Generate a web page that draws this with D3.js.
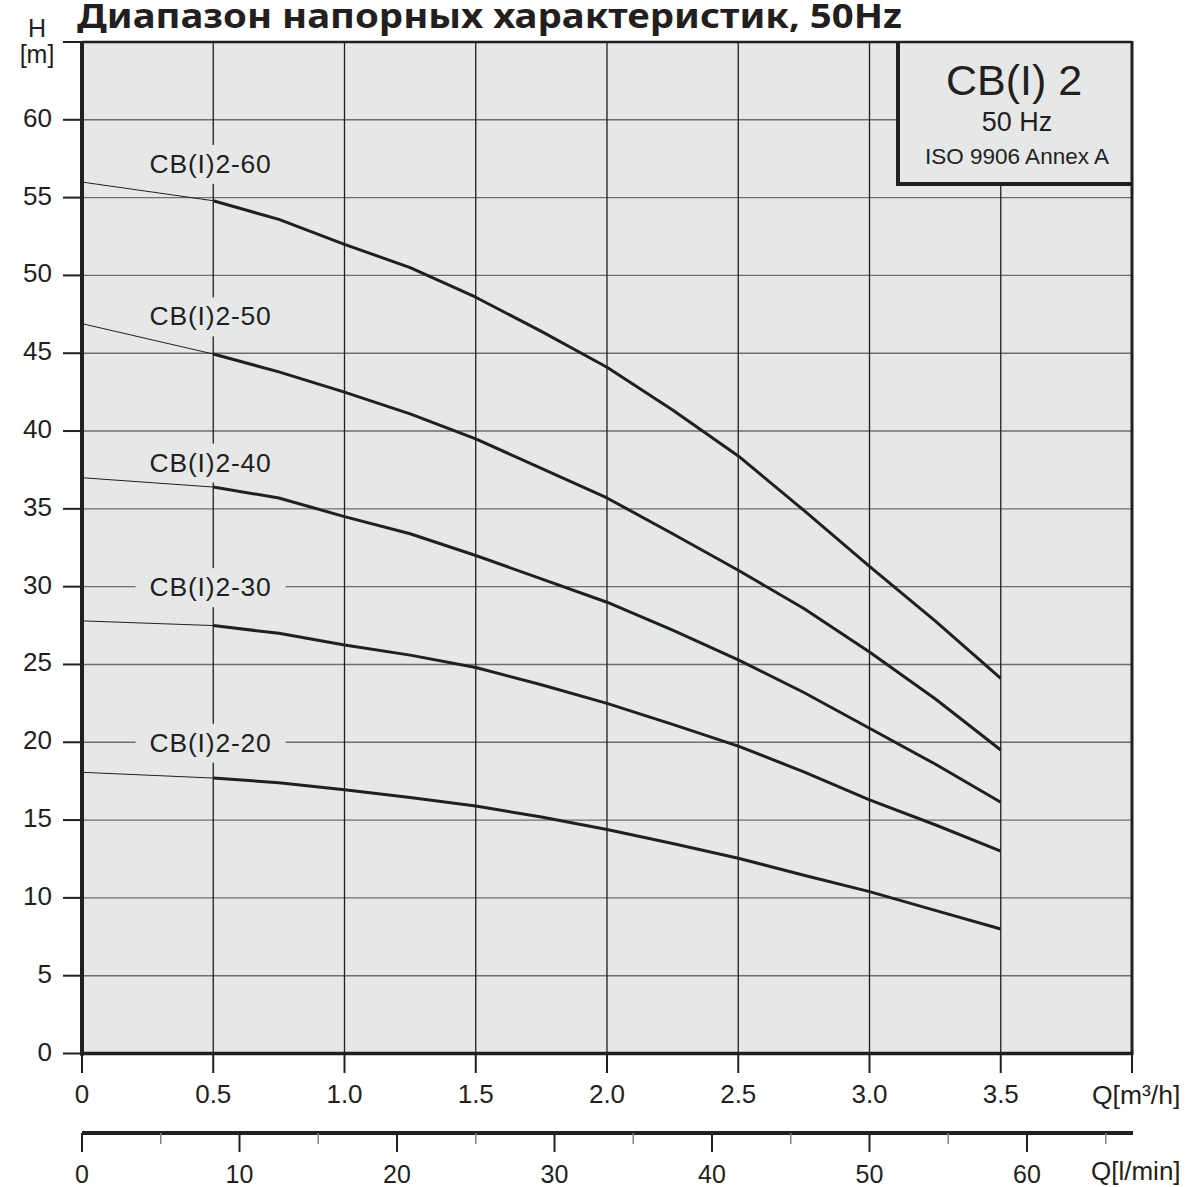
<!DOCTYPE html>
<html><head><meta charset="utf-8">
<script src="https://cdn.jsdelivr.net/npm/d3@7"></script>
<style>
body{margin:0;background:#fff}
svg{display:block}
text{font-family:"Liberation Sans",Arial,Helvetica,sans-serif;fill:#231f20}
</style>
</head><body>
<svg id="c" width="1198" height="1187"></svg>
<script>
// ---- data ----
const flowQ  = [0, 0.5, 0.75, 1.0, 1.25, 1.5, 1.75, 2.0, 2.25, 2.5, 2.75, 3.0, 3.25, 3.5];
const head60 = [56.0, 54.8, 53.6, 52.0, 50.5, 48.6, 46.4, 44.1, 41.35, 38.4, 34.9, 31.3, 27.8, 24.1];
const head50 = [46.9, 44.95, 43.8, 42.5, 41.1, 39.5, 37.6, 35.7, 33.4, 31.05, 28.6, 25.8, 22.8, 19.5];
const head40 = [37.0, 36.4, 35.7, 34.5, 33.4, 32.0, 30.5, 29.0, 27.2, 25.3, 23.2, 20.9, 18.6, 16.15];
const head30 = [27.8, 27.5, 27.0, 26.25, 25.6, 24.8, 23.7, 22.5, 21.15, 19.75, 18.1, 16.3, 14.7, 13.0];
const head20 = [18.07, 17.7, 17.4, 16.95, 16.45, 15.9, 15.2, 14.4, 13.5, 12.55, 11.45, 10.4, 9.2, 8.0];
const seriesNames = ["CB(I)2-60", "CB(I)2-50", "CB(I)2-40", "CB(I)2-30", "CB(I)2-20"];
const seriesHeads = [head60, head50, head40, head30, head20];
const labelQ = [0.49, 0.49, 0.49, 0.49, 0.49];
const labelH = [57.2, 47.4, 38.0, 30.0, 20.0];
const qTicks = [0, 0.5, 1.0, 1.5, 2.0, 2.5, 3.0, 3.5, 4.0];
const qTickLabels = ["0", "0.5", "1.0", "1.5", "2.0", "2.5", "3.0", "3.5", ""];
const hTicks = [0, 5, 10, 15, 20, 25, 30, 35, 40, 45, 50, 55, 60, 65];
const hTickLabels = ["0","5","10","15","20","25","30","35","40","45","50","55","60",""];
const lminMajor = [0, 10, 20, 30, 40, 50, 60];
const lminMinor = [5, 15, 25, 35, 45, 55, 65];
const titleText = "Диапазон напорных характеристик, 50Hz";
const legendLines = ["CB(I) 2", "50 Hz", "ISO 9906 Annex A"];

// ---- layout ----
const INK = "#231f20";
const BG = "#e6e7e7";
const svg = d3.select("#c");
const x = d3.scaleLinear().domain([0, 4]).range([82, 1132]);
const y = d3.scaleLinear().domain([0, 65]).range([1053.5, 42]);
const xl = d3.scaleLinear().domain([0, 4 / 0.06]).range([82, 1132]);

// plot background
svg.append("rect").attr("x", x(0)).attr("y", y(65)).attr("width", x(4) - x(0)).attr("height", y(0) - y(65)).attr("fill", BG);

// grid
const grid = svg.append("g");
grid.selectAll("line.h").data(hTicks.filter(d => d > 0 && d < 65)).join("line")
  .attr("x1", x(0)).attr("x2", x(4)).attr("y1", d => y(d)).attr("y2", d => y(d))
  .attr("stroke", "#6d6e71").attr("stroke-width", 1.4);
grid.selectAll("line.v").data(qTicks.filter(d => d > 0 && d < 4)).join("line")
  .attr("x1", d => x(d)).attr("x2", d => x(d)).attr("y1", y(0)).attr("y2", y(65))
  .attr("stroke", INK).attr("stroke-width", 1.3);

// curve label backgrounds + texts
const labBg = svg.append("g");
const curves = svg.append("g");
const labTx = svg.append("g");
seriesNames.forEach((name, i) => {
  const bg = labBg.append("rect").attr("fill", BG);
  const t = labTx.append("text").attr("x", x(labelQ[i])).attr("y", y(labelH[i]) + 9.5)
    .attr("text-anchor", "middle").attr("font-size", 26.5).attr("letter-spacing", 0.8).text(name);
  const b = t.node().getBBox();
  bg.attr("x", b.x - 14).attr("y", b.y - 4).attr("width", b.width + 28).attr("height", b.height + 9);
});

// curves
const line = d3.line().x(d => x(d[0])).y(d => y(d[1]));
seriesHeads.forEach(h => {
  const pts = flowQ.map((q, i) => [q, h[i]]);
  curves.append("path").attr("d", line(pts.filter(p => p[0] <= 0.5)))
    .attr("fill", "none").attr("stroke", INK).attr("stroke-width", 1);
  curves.append("path").attr("d", line(pts.filter(p => p[0] >= 0.5)))
    .attr("fill", "none").attr("stroke", INK).attr("stroke-width", 3).attr("stroke-linejoin", "round");
});

// legend box
const lg = svg.append("g");
lg.append("rect").attr("x", 898).attr("y", y(65)).attr("width", x(4) - 898).attr("height", 184 - y(65)).attr("fill", BG);
lg.append("line").attr("x1", 898).attr("x2", 898).attr("y1", y(65)).attr("y2", 186).attr("stroke", INK).attr("stroke-width", 4);
lg.append("line").attr("x1", 896).attr("x2", x(4)).attr("y1", 184).attr("y2", 184).attr("stroke", INK).attr("stroke-width", 4);
lg.append("text").attr("x", 1014).attr("y", 95).attr("text-anchor", "middle").attr("font-size", 43).text(legendLines[0]);
lg.append("text").attr("x", 1017).attr("y", 131).attr("text-anchor", "middle").attr("font-size", 27).text(legendLines[1]);
lg.append("text").attr("x", 1017).attr("y", 164).attr("text-anchor", "middle").attr("font-size", 22.5).text(legendLines[2]);

// frame
const fr = svg.append("g").attr("stroke", INK);
fr.append("line").attr("x1", x(0)).attr("x2", x(0)).attr("y1", y(65) - 1).attr("y2", y(0) + 2).attr("stroke-width", 4);
fr.append("line").attr("x1", x(0) - 2).attr("x2", x(4) + 1.5).attr("y1", y(0)).attr("y2", y(0)).attr("stroke-width", 3.5);
fr.append("line").attr("x1", x(0)).attr("x2", x(4)).attr("y1", y(65)).attr("y2", y(65)).attr("stroke-width", 2.5);
fr.append("line").attr("x1", x(4)).attr("x2", x(4)).attr("y1", y(65) - 1).attr("y2", y(0)).attr("stroke-width", 3);

// y axis ticks + labels
svg.selectAll("line.yt").data(hTicks).join("line")
  .attr("x1", 63).attr("x2", x(0)).attr("y1", d => y(d)).attr("y2", d => y(d))
  .attr("stroke", INK).attr("stroke-width", 2);
svg.selectAll("text.yl").data(hTicks).join("text")
  .attr("x", 52).attr("y", d => y(d) + 7).attr("text-anchor", "end").attr("font-size", 26)
  .text((d, i) => hTickLabels[i]);
svg.append("text").attr("x", 37).attr("y", 37).attr("text-anchor", "middle").attr("font-size", 25).text("H");
svg.append("text").attr("x", 37).attr("y", 63).attr("text-anchor", "middle").attr("font-size", 25).text("[m]");

// x axis (m3/h)
svg.selectAll("line.xt").data(qTicks).join("line")
  .attr("x1", d => x(d)).attr("x2", d => x(d)).attr("y1", y(0)).attr("y2", 1073)
  .attr("stroke", INK).attr("stroke-width", 2);
svg.selectAll("text.xl").data(qTicks).join("text")
  .attr("x", d => x(d)).attr("y", 1103).attr("text-anchor", "middle").attr("font-size", 26)
  .text((d, i) => qTickLabels[i]);
svg.append("text").attr("x", 1092).attr("y", 1104).attr("font-size", 26.5).text("Q[m³/h]");

// x axis (l/min)
svg.append("line").attr("x1", xl(0)).attr("x2", xl(4 / 0.06) + 1).attr("y1", 1133).attr("y2", 1133)
  .attr("stroke", INK).attr("stroke-width", 4);
svg.selectAll("line.lmaj").data(lminMajor).join("line")
  .attr("x1", d => xl(d)).attr("x2", d => xl(d)).attr("y1", 1133).attr("y2", 1152)
  .attr("stroke", INK).attr("stroke-width", 2);
svg.selectAll("line.lmin").data(lminMinor).join("line")
  .attr("x1", d => xl(d)).attr("x2", d => xl(d)).attr("y1", 1133).attr("y2", 1144)
  .attr("stroke", "#808285").attr("stroke-width", 1.5);
svg.selectAll("text.ll").data(lminMajor).join("text")
  .attr("x", d => xl(d)).attr("y", 1183).attr("text-anchor", "middle").attr("font-size", 25)
  .text(d => d);
svg.append("text").attr("x", 1091).attr("y", 1180).attr("font-size", 26).text("Q[l/min]");

// title
svg.append("text").attr("x", 77).attr("y", 27.5)
  .style("font-family", "'Noto Sans','Open Sans',sans-serif").attr("font-weight", "bold")
  .attr("font-size", 34).attr("textLength", 825).attr("lengthAdjust", "spacingAndGlyphs")
  .text(titleText);
</script>
</body></html>
